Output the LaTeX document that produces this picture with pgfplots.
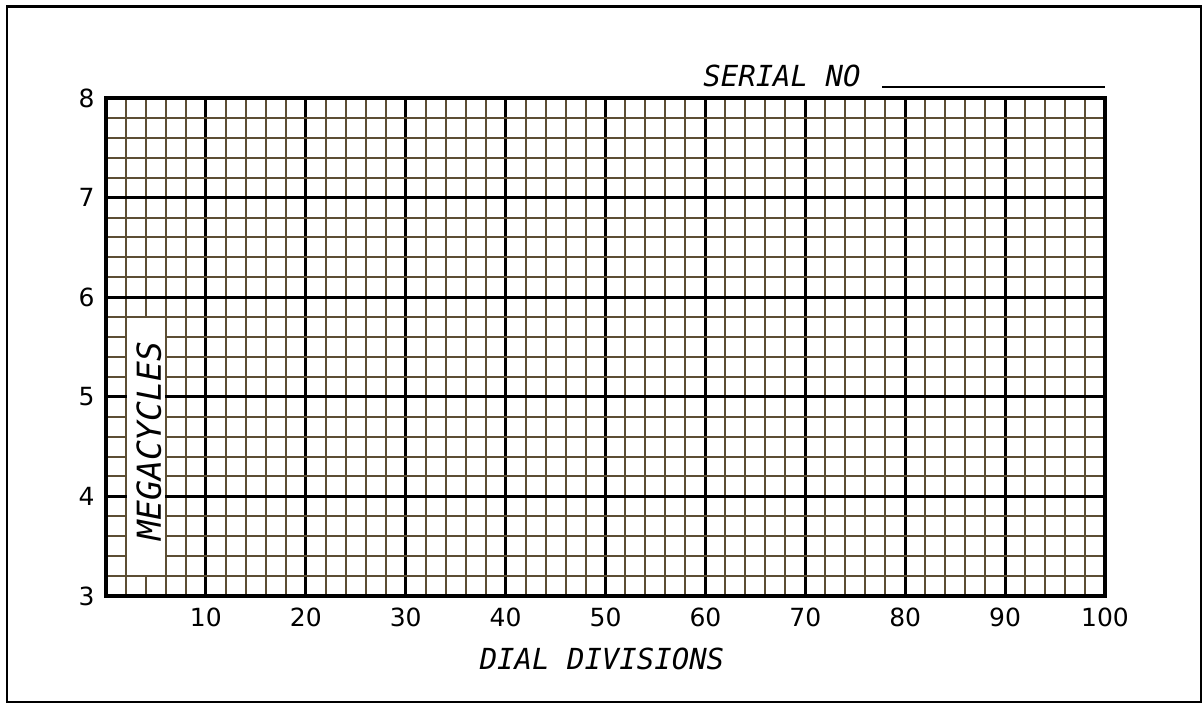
\documentclass[border=0pt]{standalone}
\usepackage{pgfplots}
\pgfplotsset{compat=1.18}
\usepackage{fontspec}
\setmainfont{DejaVu Sans}
\newfontfamily\labelfont{DejaVu Sans Mono}
\definecolor{gridbrown}{RGB}{92,78,52}

\begin{document}
\begin{tikzpicture}
\begin{axis}[
  at={(53pt,54pt)}, anchor=south west,
  scale only axis, width=499.5pt, height=249pt,
  xmin=0, xmax=100, ymin=3, ymax=8,
  xtick={0,10,...,100},
  xticklabels={,10,20,30,40,50,60,70,80,90,100},
  ytick={3,4,5,6,7,8},
  minor x tick num=4, minor y tick num=4,
  major tick length=0pt, minor tick length=0pt,
  grid=both,
  major grid style={black, line width=1.5pt},
  minor grid style={gridbrown, line width=1pt},
  axis line style={black, line width=1.6pt},
  /pgf/number format/assume math mode=true,
  ticklabel style={font=\fontsize{12.5}{15}\selectfont},
  xticklabel style={anchor=north, inner sep=0pt, yshift=-6pt},
  yticklabel style={anchor=east, inner sep=0pt, xshift=-5.5pt},
  clip=false,
]
% blank chart paper: no data series
\addplot[draw=none] coordinates {(0,3) (100,8)};
% white label box for the y title
\fill[white] ([shift={(0.5pt,0.5pt)}]axis cs:2,3.2) rectangle ([shift={(-0.5pt,-0.5pt)}]axis cs:6,5.8);
\node[rotate=90, anchor=base, inner sep=0pt,
      font=\labelfont\itshape\fontsize{16.5}{19}\selectfont] at (axis cs:5.5,4.556) {MEGACYCLES};
\end{axis}
\node[anchor=base, inner sep=0pt, font=\labelfont\itshape\fontsize{14.5}{17}\selectfont]
  at (301pt,17pt) {DIAL DIVISIONS};
\node[anchor=base west, inner sep=0pt, font=\labelfont\itshape\fontsize{14.5}{17}\selectfont]
  at (351.5pt,308.5pt) {SERIAL NO};
\draw[line width=0.6pt] (441pt,308.5pt) -- (552.5pt,308.5pt);
\draw[line width=1.2pt] (3.5pt,1pt) rectangle (600.5pt,348.75pt);
\pgfresetboundingbox
\useasboundingbox (0,0) rectangle (602pt,352pt);
\end{tikzpicture}
\end{document}
